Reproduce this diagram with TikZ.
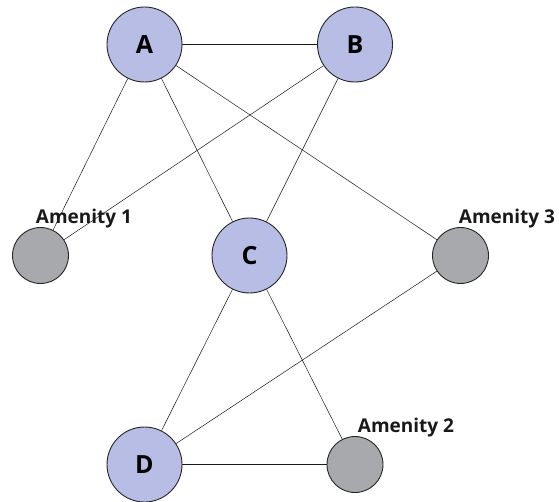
\documentclass[tikz,border=0pt]{standalone}
\usepackage{fontspec}
\setmainfont{Open Sans}
\usepackage{tikz}
\definecolor{placefill}{RGB}{184,189,230}
\definecolor{amenfill}{RGB}{167,169,172}

\begin{document}
\begin{tikzpicture}[x=1pt,y=1pt,
  place/.style={circle, draw=black!85, line width=0.9pt, fill=placefill, minimum size=75pt, inner sep=0pt, font=\fontsize{25}{25}\selectfont\bfseries},
  amen/.style={circle, draw=black!85, line width=0.9pt, fill=amenfill, minimum size=56pt, inner sep=0pt},
  lbl/.style={font=\fontsize{19}{19}\selectfont\bfseries, text=black!90},
  link/.style={black!90, line width=0.5pt}]
\useasboundingbox (0,0) rectangle (559,501);

\node [place] (A) at (144.5,456.5) {A};
\node [place] (B) at (355,456.5) {B};
\node [place] (C) at (249.5,245.5) {C};
\node [place] (D) at (144.5,36.5) {D};

\node [amen] (m1) at (40.5,245.5) {};
\node [amen] (m3) at (460.5,245.5) {};
\node [amen] (m2) at (355,36.5) {};

\node [lbl] (l1) at (84,282) {Amenity 1};
\node [lbl] (l3) at (507,282) {Amenity 3};
\node [lbl] (l2) at (406,73) {Amenity 2};

% links between places and amenities
\draw [link] (A) -- (B);
\draw [link] (A) -- (m1);
\draw [link] (A) -- (C);
\draw [link] (A) -- (m3);
\draw [link] (B) -- (m1);
\draw [link] (B) -- (C);
\draw [link] (C) -- (D);
\draw [link] (C) -- (m2);
\draw [link] (D) -- (m3);
\draw [link] (D) -- (m2);
\end{tikzpicture}
\end{document}
